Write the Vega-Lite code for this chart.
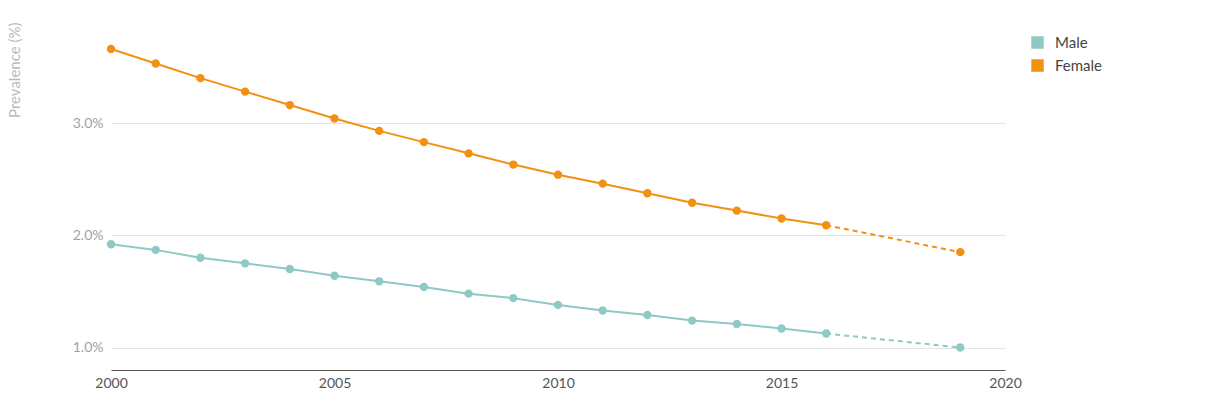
{
"$schema":"https://vega.github.io/schema/vega-lite/v6.json",
"width":894,"height":348,
"autosize":{"type":"none"},
"padding":{"left":111,"top":22,"right":225,"bottom":33},
"config":{"font":"Lato","view":{"stroke":null}},
"data":{"values":[
{"year":2000,"sex":"Male","v":1.92},{"year":2001,"sex":"Male","v":1.87},{"year":2002,"sex":"Male","v":1.80},{"year":2003,"sex":"Male","v":1.75},{"year":2004,"sex":"Male","v":1.70},{"year":2005,"sex":"Male","v":1.64},{"year":2006,"sex":"Male","v":1.59},{"year":2007,"sex":"Male","v":1.54},{"year":2008,"sex":"Male","v":1.48},{"year":2009,"sex":"Male","v":1.44},{"year":2010,"sex":"Male","v":1.38},{"year":2011,"sex":"Male","v":1.33},{"year":2012,"sex":"Male","v":1.29},{"year":2013,"sex":"Male","v":1.24},{"year":2014,"sex":"Male","v":1.21},{"year":2015,"sex":"Male","v":1.17},{"year":2016,"sex":"Male","v":1.125},{"year":2019,"sex":"Male","v":1.00},
{"year":2000,"sex":"Female","v":3.66},{"year":2001,"sex":"Female","v":3.53},{"year":2002,"sex":"Female","v":3.40},{"year":2003,"sex":"Female","v":3.28},{"year":2004,"sex":"Female","v":3.16},{"year":2005,"sex":"Female","v":3.04},{"year":2006,"sex":"Female","v":2.93},{"year":2007,"sex":"Female","v":2.83},{"year":2008,"sex":"Female","v":2.73},{"year":2009,"sex":"Female","v":2.63},{"year":2010,"sex":"Female","v":2.54},{"year":2011,"sex":"Female","v":2.46},{"year":2012,"sex":"Female","v":2.375},{"year":2013,"sex":"Female","v":2.29},{"year":2014,"sex":"Female","v":2.22},{"year":2015,"sex":"Female","v":2.15},{"year":2016,"sex":"Female","v":2.09},{"year":2019,"sex":"Female","v":1.85}
]},
"encoding":{
"x":{"field":"year","type":"quantitative","scale":{"domain":[2000,2020]},"axis":{"values":[2000,2005,2010,2015,2020],"format":"d","grid":false,"ticks":false,"labelFlush":false,"domainColor":"#555","labelColor":"#555","labelFontSize":14,"labelPadding":6,"title":null}},
"y":{"field":"v","type":"quantitative","scale":{"domain":[0.8,3.9]},"axis":{"values":[1,2,3],"labelExpr":"format(datum.value,'.1f')+'%'","domain":false,"ticks":false,"gridColor":"#e3e3e3","labelColor":"#9aa3ad","labelFontSize":14,"labelPadding":8,"title":"Prevalence (%)","titleColor":"#b4bcc4","titleFontSize":15,"titleFontWeight":"normal","titlePadding":50,"titleAnchor":"end"}},
"color":{"field":"sex","type":"nominal","scale":{"domain":["Male","Female"],"range":["#8fc9c5","#f29111"]},"legend":{"orient":"none","legendX":919,"legendY":13,"title":null,"symbolType":"square","symbolOpacity":1,"symbolSize":120,"labelFontSize":15,"labelOffset":10,"labelColor":"#444","rowPadding":6}}
},
"layer":[
{"transform":[{"filter":"datum.year<=2016"}],"mark":{"type":"line","strokeWidth":2}},
{"transform":[{"filter":"datum.year>=2016"}],"mark":{"type":"line","strokeWidth":2,"strokeDash":[5,4]}},
{"mark":{"type":"circle","size":70,"opacity":1}}
]
}
